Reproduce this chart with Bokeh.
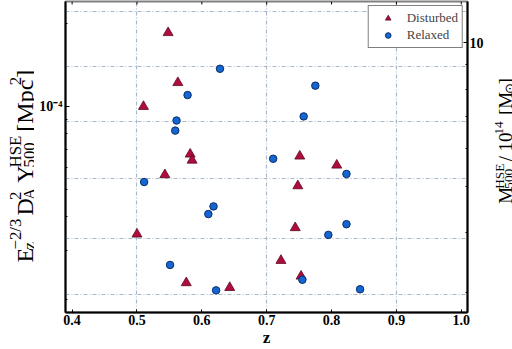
import math
from bokeh.plotting import figure
from bokeh.layouts import row
from bokeh.models import Range1d, LogScale, LogAxis, FixedTicker, Label
from bokeh.embed import file_html
from bokeh.resources import INLINE

# ---------------- data ----------------
dist_z = [0.548, 0.563, 0.510, 0.543, 0.500, 0.582, 0.585, 0.751, 0.808,
          0.748, 0.744, 0.722, 0.753, 0.576, 0.643]
dist_y = [1.85e-4, 1.22e-4, 1.00e-4, 5.66e-5, 3.45e-5, 6.72e-5, 6.39e-5, 6.61e-5, 6.13e-5,
          5.16e-5, 3.64e-5, 2.77e-5, 2.43e-5, 2.30e-5, 2.21e-5]
rel_z = [0.628, 0.578, 0.561, 0.559, 0.775, 0.757, 0.710, 0.823, 0.511,
         0.551, 0.618, 0.610, 0.622, 0.755, 0.795, 0.823, 0.844]
rel_y = [1.37e-4, 1.10e-4, 8.90e-5, 8.18e-5, 1.19e-4, 9.21e-5, 6.47e-5, 5.70e-5, 5.33e-5,
         2.67e-5, 4.35e-5, 4.08e-5, 2.16e-5, 2.36e-5, 3.43e-5, 3.75e-5, 2.18e-5]

x_ticks = [0.4, 0.5, 0.6, 0.7, 0.8, 0.9, 1.0]
x_tick_labels = ["0.4", "0.5", "0.6", "0.7", "0.8", "0.9", "1.0"]
x_grid = [0.5, 0.7, 0.9]
y_ticks = [1e-4]
y_tick_labels = ["10\u207b\u2074"]
y_minor = [2e-5, 3e-5, 4e-5, 5e-5, 6e-5, 7e-5, 8e-5, 9e-5, 2e-4]
y_grid = [2.21e-4, 1.40e-4, 8.81e-5, 5.49e-5, 3.34e-5, 2.08e-5]
m_ticks = [10]
m_tick_labels = ["10"]
m_minor = [3, 4, 5, 6, 7, 8, 9]

x_lim = (0.3898, 1.0096)
y_lim = (1.796e-5, 2.400e-4)
m_lim = (2.721, 12.216)

SERIF = "Liberation Serif"
GRID_COL = "#a9b9cc"
H = 349
LEFT_W, MAIN_W, RIGHT_W = 34, 452, 26
B_TOP, B_BOTTOM = 1, 35

p = figure(width=MAIN_W, height=H, output_backend="svg", toolbar_location=None,
           x_range=Range1d(*x_lim), y_range=Range1d(*y_lim), y_axis_type="log",
           min_border_left=31, min_border_right=16, min_border_top=B_TOP, min_border_bottom=B_BOTTOM,
           background_fill_color="white", border_fill_color="white")
p.outline_line_color = "#808080"
p.outline_line_width = 2

p.extra_y_ranges = {"mass": Range1d(*m_lim)}
p.extra_y_scales = {"mass": LogScale()}

def style_axis(ax):
    ax.axis_line_color = "black"
    ax.axis_line_width = 2
    ax.major_tick_line_color = "black"
    ax.minor_tick_line_color = "black"
    ax.major_tick_out = 0
    ax.minor_tick_out = 0
    ax.major_label_text_font = SERIF
    ax.major_label_text_font_style = "bold"
    ax.major_label_text_font_size = "14px"
    ax.major_label_text_color = "black"

# bottom x axis
xa = p.xaxis[0]
xa.ticker = FixedTicker(ticks=x_ticks)
xa.major_label_overrides = dict(zip(x_ticks, x_tick_labels))
style_axis(xa)
xa.major_tick_in = 3
xa.minor_tick_in = 0
xa.major_label_standoff = 2
xa.axis_label = "z"
xa.axis_label_text_font = SERIF
xa.axis_label_text_font_style = "bold"
xa.axis_label_text_font_size = "17px"
xa.axis_label_standoff = 0
xa.axis_label_text_color = "black"

# left y axis
ya = p.yaxis[0]
ya.ticker = FixedTicker(ticks=y_ticks, minor_ticks=y_minor)
ya.major_label_overrides = dict(zip(y_ticks, y_tick_labels))
style_axis(ya)
ya.major_tick_in = 4
ya.minor_tick_in = 2
ya.major_label_standoff = 3

# right y axis (mass)
ra = LogAxis(y_range_name="mass", ticker=FixedTicker(ticks=m_ticks, minor_ticks=m_minor))
ra.major_label_overrides = dict(zip(m_ticks, m_tick_labels))
style_axis(ra)
ra.major_tick_in = 4
ra.minor_tick_in = 2
ra.major_label_standoff = 2
p.add_layout(ra, "right")

# small inward ticks along the top edge, at the x tick positions
frame_h = H - B_TOP - B_BOTTOM
tick_factor = 10 ** (-3.0 * math.log10(y_lim[1] / y_lim[0]) / frame_h)
p.segment(x0=x_ticks, y0=[y_lim[1]] * len(x_ticks), x1=x_ticks,
          y1=[y_lim[1] * tick_factor] * len(x_ticks), line_color="black", line_width=1)

# grids
p.xgrid[0].ticker = FixedTicker(ticks=x_grid)
p.ygrid[0].ticker = FixedTicker(ticks=y_grid)
for g in (p.xgrid[0], p.ygrid[0]):
    g.grid_line_color = GRID_COL
    g.grid_line_width = 1.2
    g.grid_line_dash = "4 2 1 2"

# points
r1 = p.scatter(dist_z, dist_y, marker="triangle", size=10, fill_color="#b00c3e",
               line_color="#5c0a22", line_width=0.8, legend_label="Disturbed")
r2 = p.scatter(rel_z, rel_y, marker="circle", size=7.5, fill_color="#1466d2",
               line_color="#0a2c66", line_width=1.0, legend_label="Relaxed")

lg = p.legend[0]
lg.location = "top_right"
lg.margin = 4
lg.padding = 4
lg.spacing = 1
lg.label_height = 14
lg.glyph_height = 14
lg.glyph_width = 30
lg.label_standoff = 4
lg.label_text_font = SERIF
lg.label_text_font_size = "13px"
lg.border_line_color = "black"
lg.border_line_width = 1
lg.background_fill_alpha = 1.0

# ---------- rich axis labels built from pieces of real text ----------
W = {'E': .611, 'z': .444, '\u2212': .564, '2': .5, '/': .278, '3': .5, 'D': .722,
     'A': .722, 'Y': .722, '5': .5, '0': .5, '1': .5, '4': .5, 'H': .722, 'S': .556,
     '[': .333, 'M': .889, 'p': .5, 'c': .444, ']': .333, ' ': .25, '\u2299': .84}

def tw(s, f):
    return sum(W.get(ch, .5) for ch in s) * f

def label_fig(w):
    f = figure(width=w, height=H, output_backend="svg", toolbar_location=None,
               x_range=Range1d(0, w), y_range=Range1d(0, H),
               x_axis_location=None, y_axis_location=None,
               min_border_left=0, min_border_right=0, min_border_top=0, min_border_bottom=0,
               background_fill_color="white", border_fill_color="white")
    f.outline_line_color = None
    f.grid.visible = False
    return f

def rich_vertical(f, tokens, x0, y_start, F, sup_raise=0.36, sub_drop=0.2):
    small = 0.7 * F
    def adv(t):
        k = t[0]
        if k == "n":
            return tw(t[1], F)
        if k in ("sub", "sup"):
            return tw(t[1], small)
        if k == "ss":
            return max(tw(t[1], small), tw(t[2], small))
        if k == "gap":
            return t[1] * F
        return 0
    y = y_start
    def lab(text, dx, size):
        f.add_layout(Label(x=x0 + dx, y=y, text=text, angle=math.pi / 2,
                           text_font=SERIF, text_font_size=f"{size:.1f}px",
                           text_align="left", text_baseline="alphabetic", text_color="black"))
    for t in tokens:
        k = t[0]
        if k == "n":
            lab(t[1], 0, F)
        elif k == "sub":
            lab(t[1], sub_drop * F, small)
        elif k == "sup":
            lab(t[1], -sup_raise * F, small)
        elif k == "ss":
            lab(t[1], sub_drop * F, small)
            lab(t[2], -sup_raise * F, small)
        y += adv(t)

left_label = [("n", "E"), ("ss", "z", "\u22122/3"), ("gap", 0.3), ("n", "D"), ("ss", "A", "2"),
              ("gap", 0.3), ("n", "Y"), ("ss", "500", "HSE"), ("gap", 0.35), ("n", "[Mpc"),
              ("sup", "2"), ("n", "]")]
right_label = [("n", "M"), ("ss", "500", "HSE"), ("gap", 0.3), ("n", "/"), ("gap", 0.3),
               ("n", "10"), ("sup", "14"), ("gap", 0.45), ("n", "[M"), ("sub", "\u2299"), ("n", "]")]

lf = label_fig(LEFT_W)
rich_vertical(lf, left_label, 24, H - 293, 24)
rf = label_fig(RIGHT_W)
rich_vertical(rf, right_label, 19, H - 227, 19, sup_raise=0.33, sub_drop=0.2)

layout = row(lf, p, rf)
open("out.html", "w").write(file_html(layout, INLINE))
